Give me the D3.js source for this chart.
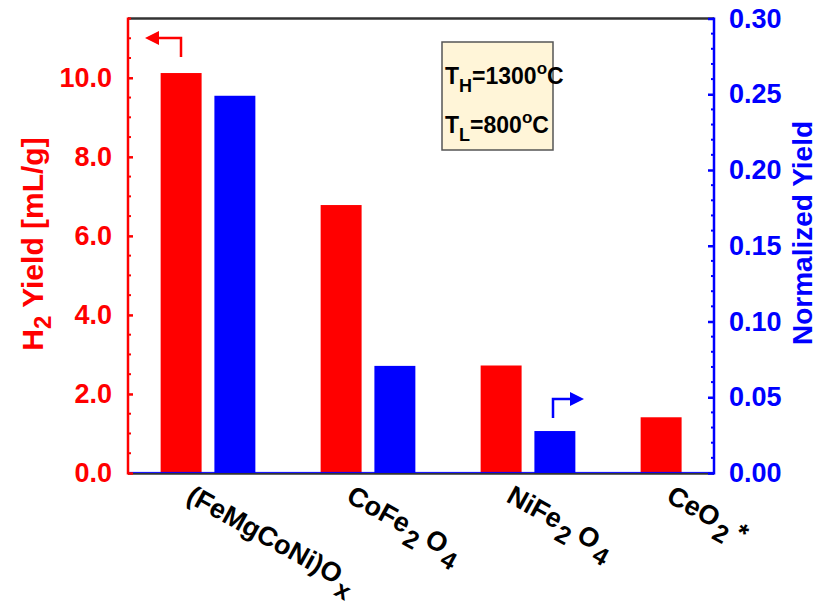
<!DOCTYPE html>
<html>
<head>
<meta charset="utf-8">
<script src="https://cdn.jsdelivr.net/npm/d3@7"></script>
<style>
  body { margin: 0; background: #fff; }
  svg { display: block; }
  text { font-family: "Liberation Sans", Arial, sans-serif; font-weight: bold; }
</style>
</head>
<body>
<svg id="chart" width="819" height="604"></svg>
<script>
// ---- data ----
const categories = ["(FeMgCoNi)Ox", "CoFe2O4", "NiFe2O4", "CeO2*"];
const h2Yield = [10.12, 6.78, 2.72, 1.41];          // mL/g (left axis)
const normalizedYield = [0.249, 0.0707, 0.0277, null]; // right axis
const leftTicks = [0, 2, 4, 6, 8, 10];
const leftTickLabels = ["0.0", "2.0", "4.0", "6.0", "8.0", "10.0"];
const rightTicks = [0, 0.05, 0.10, 0.15, 0.20, 0.25, 0.30];
const rightTickLabels = ["0.00", "0.05", "0.10", "0.15", "0.20", "0.25", "0.30"];

// ---- layout ----
const svg = d3.select("#chart");
const L = 128, R = 714, T = 18.5, B = 473;
const RED = "#ff0000", BLUE = "#0000ff";

const x = d3.scaleLinear().domain([-0.5, 3.1625]).range([L, R]);
const yL = d3.scaleLinear().domain([0, 11.5]).range([B, T]);
const yR = d3.scaleLinear().domain([0, 0.30]).range([B, T]);
const barW = x(0.256) - x(0);
const off = 0.168;

// bars
svg.append("g").selectAll("rect").data(h2Yield).join("rect")
  .attr("x", (d, i) => x(i - off) - barW / 2)
  .attr("y", d => yL(d))
  .attr("width", barW)
  .attr("height", d => yL(0) - yL(d))
  .attr("fill", RED);

svg.append("g").selectAll("rect").data(normalizedYield.map((v, i) => ({v, i})).filter(d => d.v != null)).join("rect")
  .attr("x", d => x(d.i + off) - barW / 2)
  .attr("y", d => yR(d.v))
  .attr("width", barW)
  .attr("height", d => yR(0) - yR(d.v))
  .attr("fill", BLUE);

// frame top/bottom
svg.append("line").attr("x1", L).attr("x2", R).attr("y1", T).attr("y2", T)
  .attr("stroke", "#333").attr("stroke-width", 2.5);
svg.append("line").attr("x1", L).attr("x2", R).attr("y1", B + 0.8).attr("y2", B + 0.8)
  .attr("stroke", "#333").attr("stroke-width", 2);
svg.append("line").attr("x1", L).attr("x2", R).attr("y1", B - 0.6).attr("y2", B - 0.6)
  .attr("stroke", BLUE).attr("stroke-width", 1);

// left axis
const leftAxis = d3.axisLeft(yL).tickValues(leftTicks)
  .tickFormat((d, i) => leftTickLabels[i]).tickSize(-5).tickPadding(16);
const gL = svg.append("g").attr("transform", `translate(${L},0)`).call(leftAxis);
gL.select(".domain").remove();
gL.selectAll(".tick line").attr("stroke", RED).attr("stroke-width", 2.5);
gL.selectAll(".tick text").attr("fill", RED).attr("font-size", 27)
  .style("font-family", "'Liberation Sans', Arial, sans-serif").style("font-weight", "bold");
const leftMinor = d3.range(0.5, 11.6, 0.5).filter(v => Math.abs(v % 2) > 0.01);
svg.append("g").selectAll("line").data(leftMinor).join("line")
  .attr("x1", L).attr("x2", L + 3).attr("y1", d => yL(d)).attr("y2", d => yL(d))
  .attr("stroke", RED).attr("stroke-width", 2);
svg.append("line").attr("x1", L).attr("x2", L).attr("y1", T - 1).attr("y2", B + 1.5)
  .attr("stroke", RED).attr("stroke-width", 2.5);

// right axis
const rightAxis = d3.axisRight(yR).tickValues(rightTicks)
  .tickFormat((d, i) => rightTickLabels[i]).tickSize(-6).tickPadding(15);
const gR = svg.append("g").attr("transform", `translate(${R},0)`).call(rightAxis);
gR.select(".domain").remove();
gR.selectAll(".tick line").attr("stroke", BLUE).attr("stroke-width", 2.5);
gR.selectAll(".tick text").attr("fill", BLUE).attr("font-size", 27)
  .style("font-family", "'Liberation Sans', Arial, sans-serif").style("font-weight", "bold");
const rightMinor = d3.range(1, 30).filter(k => k % 5 !== 0).map(k => k / 100);
svg.append("g").selectAll("line").data(rightMinor).join("line")
  .attr("x1", R - 3).attr("x2", R).attr("y1", d => yR(d)).attr("y2", d => yR(d))
  .attr("stroke", BLUE).attr("stroke-width", 2);
svg.append("line").attr("x1", R).attr("x2", R).attr("y1", T - 1).attr("y2", B + 1.5)
  .attr("stroke", BLUE).attr("stroke-width", 2.5);

// x category labels with subscripts
function parts(s) {
  const out = [];
  const re = /(\d+|x$)/g;
  let last = 0, m;
  while ((m = re.exec(s)) !== null) {
    if (m.index > last) out.push({t: s.slice(last, m.index), sub: false});
    out.push({t: m[0], sub: true});
    last = m.index + m[0].length;
  }
  if (last < s.length) out.push({t: s.slice(last), sub: false});
  return out;
}
categories.forEach((c, i) => {
  const tx = x(i) - 23, ty = 501;
  const t = svg.append("text")
    .attr("transform", `translate(${tx},${ty}) rotate(29)`)
    .attr("font-size", 27).attr("fill", "#000");
  let curSub = false;
  parts(c).forEach(p => {
    const sp = t.append("tspan").text(p.t);
    if (p.sub && !curSub) { sp.attr("dy", 10).attr("dx", 2).attr("font-size", 25); curSub = true; }
    else if (!p.sub && curSub) { sp.attr("dy", -10).attr("dx", 6); curSub = false; }
    else if (p.sub) { sp.attr("font-size", 25); }
  });
});

// axis titles
const tl = svg.append("text")
  .attr("transform", `translate(43,244) rotate(-90)`)
  .attr("text-anchor", "middle").attr("font-size", 30).attr("fill", RED);
tl.append("tspan").text("H");
tl.append("tspan").text("2").attr("font-size", 24).attr("dy", 8);
tl.append("tspan").text(" Yield [mL/g]").attr("dy", -8);

svg.append("text")
  .attr("transform", `translate(812,233) rotate(-90)`)
  .attr("text-anchor", "middle").attr("font-size", 28).attr("fill", BLUE)
  .text("Normalized Yield");

// condition box
svg.append("rect").attr("x", 442).attr("y", 42).attr("width", 111).attr("height", 108)
  .attr("fill", "#fff5d8").attr("stroke", "#555").attr("stroke-width", 1.5);
function condLine(y, sub, val) {
  const t = svg.append("text").attr("x", 445).attr("y", y).attr("font-size", 23).attr("fill", "#000");
  t.append("tspan").text("T");
  t.append("tspan").text(sub).attr("font-size", 18).attr("dy", 8);
  t.append("tspan").text("=" + val).attr("dy", -8);
  t.append("tspan").text("o").attr("font-size", 17).attr("dy", -10);
  t.append("tspan").text("C").attr("dy", 10);
}
condLine(84, "H", "1300");
condLine(133, "L", "800");

// indicator arrows
const redArrow = [[181, 57], [181, 38], [156, 38]];
svg.append("path").attr("d", d3.line()(redArrow)).attr("fill", "none")
  .attr("stroke", RED).attr("stroke-width", 2.5);
svg.append("path").attr("d", d3.line()([[145, 38], [159, 31], [159, 45]]) + "Z").attr("fill", RED);

const blueArrow = [[553, 418], [553, 399], [573, 399]];
svg.append("path").attr("d", d3.line()(blueArrow)).attr("fill", "none")
  .attr("stroke", BLUE).attr("stroke-width", 2.5);
svg.append("path").attr("d", d3.line()([[584, 399], [570, 392], [570, 406]]) + "Z").attr("fill", BLUE);
</script>
</body>
</html>
